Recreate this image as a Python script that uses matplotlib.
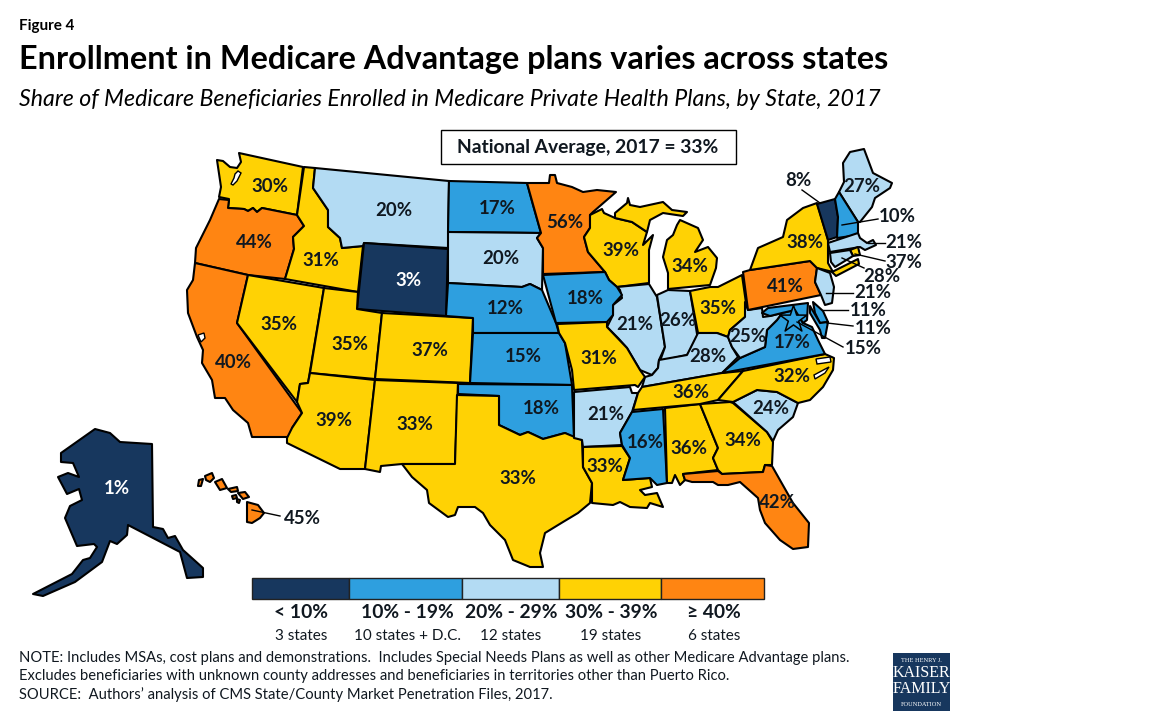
#!/usr/bin/env python3
"""
Medicare Advantage enrollment by state, 2017
"""

import numpy as np
import matplotlib.pyplot as plt
from matplotlib.patches import Polygon, Rectangle

plt.rcParams['font.family'] = ['Lato', 'DejaVu Sans']

states = ['WA', 'OR', 'CA', 'NV', 'ID', 'MT', 'WY', 'UT', 'CO', 'AZ', 'NM', 'ND', 'SD', 'NE', 'KS', 'OK', 'TX',
          'MN', 'IA', 'MO', 'AR', 'LA', 'WI', 'IL', 'IN', 'MI', 'OH', 'KY', 'TN', 'MS', 'AL', 'GA', 'FL', 'SC',
          'NC', 'VA', 'WV', 'PA', 'NY', 'VT', 'ME', 'NH', 'MA', 'RI', 'CT', 'NJ', 'DE', 'MD', 'DC', 'HI', 'AK']
shares = [30, 44, 40, 35, 31, 20, 3, 35, 37, 39, 33, 17, 20, 12, 15, 18, 33,
          56, 18, 31, 21, 33, 39, 21, 26, 34, 35, 28, 36, 16, 36, 34, 42, 24,
          32, 17, 25, 41, 38, 8, 27, 10, 21, 37, 28, 21, 11, 11, 15, 45, 1]

bin_edges = [10, 20, 30, 40]
bin_colors = ['#17375E', '#2E9FDF', '#B3DBF3', '#FFD204', '#FF8512']
bin_labels = ['< 10%', '10% - 19%', '20% - 29%', '30% - 39%', '≥ 40%']
bin_counts = ['3 states', '10 states + D.C.', '12 states', '19 states', '6 states']

# outlines, in picture coordinates
outlines = {
    'WA': [[(239, 153), (303, 167), (297, 215), (262, 208), (257, 212), (253, 208), (248, 211), (244, 209), (228, 208),
            (229, 199), (219, 197), (221, 187), (217, 160), (223, 161), (230, 167), (237, 168), (241, 162)]],
    'OR': [[(219, 199), (229, 200), (228, 208), (244, 209), (248, 211), (253, 208), (257, 212), (262, 208), (297, 215),
            (304, 226), (293, 237), (294, 249), (285, 279), (248, 275), (195, 263), (196, 248), (210, 220)]],
    'CA': [[(195, 263), (248, 275), (237, 323), (302, 413), (292, 428), (292, 437), (252, 437), (248, 423), (233, 410),
            (225, 398), (215, 398), (212, 380), (202, 363), (203, 350), (197, 337), (188, 313), (187, 290), (193, 280)]],
    'NV': [[(248, 275), (324, 288), (308, 383), (300, 384), (297, 402), (237, 323)]],
    'ID': [[(304, 167), (315, 168), (313, 188), (328, 210), (328, 227), (340, 238), (342, 248), (363, 246), (358, 292),
            (285, 279), (294, 249), (293, 237), (304, 226), (297, 215)]],
    'MT': [[(315, 168), (449, 181), (448, 248), (364, 243), (363, 246), (342, 248), (340, 238), (328, 227), (328, 210),
            (313, 188)]],
    'WY': [[(364, 243), (448, 249), (446, 316), (357, 309)]],
    'UT': [[(324, 288), (358, 292), (357, 309), (382, 313), (375, 379), (310, 373)]],
    'CO': [[(382, 313), (473, 318), (470, 383), (375, 379)]],
    'AZ': [[(310, 373), (375, 380), (365, 469), (340, 469), (287, 443), (287, 438), (292, 428), (302, 413), (297, 402),
            (300, 384), (308, 383)]],
    'NM': [[(375, 380), (458, 383), (455, 464), (402, 464), (381, 466), (380, 472), (365, 469)]],
    'ND': [[(449, 181), (527, 183), (533, 205), (541, 233), (448, 232)]],
    'SD': [[(448, 232), (541, 233), (537, 238), (543, 248), (542, 290), (530, 284), (522, 287), (448, 283)]],
    'NE': [[(448, 283), (522, 287), (530, 284), (542, 290), (556, 323), (559, 333), (473, 333), (473, 318), (446, 316)]],
    'KS': [[(473, 333), (559, 333), (565, 343), (572, 385), (470, 383)]],
    'OK': [[(458, 384), (572, 385), (574, 438), (565, 433), (543, 439), (528, 432), (520, 435), (499, 425), (499, 396),
            (458, 394)]],
    'TX': [[(457, 395), (499, 396), (499, 425), (520, 435), (528, 432), (543, 439), (565, 433), (582, 440), (583, 467),
            (592, 483), (590, 503), (578, 513), (563, 522), (545, 533), (540, 553), (543, 567), (530, 567), (513, 560),
            (505, 540), (490, 525), (483, 513), (475, 507), (458, 507), (455, 515), (448, 517), (429, 503), (427, 490),
            (412, 477), (402, 464), (455, 464)]],
    'MN': [[(527, 183), (549, 183), (550, 175), (555, 175), (557, 183), (572, 187), (583, 192), (597, 190), (616, 192),
            (593, 212), (590, 215), (590, 228), (584, 237), (588, 252), (605, 272), (543, 274), (543, 248), (537, 238),
            (541, 233)]],
    'WI': [[(590, 215), (602, 209), (604, 213), (615, 218), (632, 222), (647, 232), (643, 245), (653, 235), (649, 250),
            (649, 283), (617, 287), (609, 280), (605, 272), (588, 252), (584, 237), (590, 228)]],
    'MI': [[(615, 213), (627, 203), (628, 198), (630, 205), (640, 207), (663, 202), (672, 210), (687, 212), (683, 216),
            (663, 213), (650, 220), (647, 232), (632, 222), (615, 218)],
           [(680, 220), (698, 228), (703, 240), (695, 252), (708, 247), (717, 258), (716, 268), (710, 285), (668, 289),
            (668, 273), (663, 257), (667, 240), (673, 235), (677, 225)]],
    'IL': [[(617, 287), (649, 284), (657, 297), (665, 347), (659, 360), (658, 368), (652, 375), (640, 370), (627, 348),
            (618, 338), (607, 327), (613, 315), (613, 305), (622, 298), (620, 290)]],
    'IN': [[(657, 295), (668, 290), (690, 291), (698, 340), (687, 355), (660, 361), (665, 347)]],
    'OH': [[(690, 291), (710, 287), (718, 287), (742, 275), (746, 303), (745, 317), (730, 330), (728, 337), (717, 333),
            (698, 333)]],
    'KY': [[(698, 333), (717, 333), (728, 337), (732, 347), (738, 357), (722, 373), (642, 387), (645, 377), (652, 375),
            (658, 368), (659, 360), (687, 355)]],
    'IA': [[(543, 275), (605, 272), (609, 280), (617, 287), (622, 295), (613, 305), (613, 315), (607, 322), (556, 323)]],
    'MO': [[(557, 324), (607, 322), (607, 327), (627, 348), (640, 370), (645, 377), (638, 387), (635, 385), (574, 390),
            (572, 370), (565, 343), (559, 333)]],
    'AR': [[(574, 392), (630, 387), (632, 393), (638, 393), (632, 412), (620, 433), (622, 445), (583, 447), (582, 440),
            (574, 438)]],
    'LA': [[(583, 447), (622, 446), (630, 458), (623, 480), (650, 478), (652, 487), (640, 490), (645, 495), (657, 493),
            (663, 507), (650, 503), (647, 508), (630, 507), (620, 502), (613, 505), (592, 503), (592, 483), (583, 467)]],
    'MS': [[(632, 412), (663, 409), (667, 483), (657, 485), (650, 478), (623, 480), (630, 458), (622, 445), (620, 433)]],
    'AL': [[(665, 408), (700, 404), (718, 448), (713, 458), (718, 470), (683, 474), (685, 480), (680, 485), (675, 475),
            (672, 483), (667, 483)]],
    'GA': [[(700, 404), (730, 402), (733, 403), (767, 432), (773, 442), (772, 465), (765, 465), (763, 472), (722, 474),
            (718, 470), (713, 458), (718, 448)]],
    'FL': [[(683, 474), (718, 471), (722, 474), (763, 472), (765, 465), (772, 466), (793, 503), (809, 523), (808, 547),
            (793, 549), (780, 540), (765, 523), (760, 510), (758, 498), (740, 482), (728, 485), (718, 485), (713, 482),
            (692, 482), (685, 480)]],
    'SC': [[(733, 402), (757, 390), (777, 392), (798, 403), (793, 417), (778, 430), (773, 441), (767, 432)]],
    'TN': [[(642, 387), (722, 373), (743, 371), (718, 400), (700, 404), (633, 410), (638, 393)]],
    'NC': [[(743, 371), (825, 354), (834, 358), (833, 370), (823, 387), (810, 400), (798, 403), (777, 392), (757, 390),
            (733, 402), (718, 400)]],
    'VA': [[(722, 373), (740, 358), (765, 347), (767, 330), (777, 320), (782, 313), (795, 310), (803, 323), (812, 327),
            (818, 340), (825, 354)]],
    'WV': [[(745, 302), (748, 310), (762, 308), (763, 317), (770, 316), (782, 313), (777, 320), (767, 330), (765, 347),
            (740, 358), (732, 347), (728, 337), (730, 330), (745, 317)]],
    'PA': [[(743, 272), (750, 270), (810, 261), (817, 268), (815, 282), (821, 295), (748, 310)]],
    'NY': [[(750, 270), (758, 248), (783, 237), (787, 220), (803, 208), (817, 203), (828, 240), (828, 263), (833, 272),
            (817, 268), (810, 261)],
           [(832, 272), (858, 259), (859, 264), (836, 276)]],
    'VT': [[(817, 204), (835, 199), (838, 217), (837, 237), (828, 240)]],
    'ME': [[(839, 192), (844, 182), (843, 163), (850, 152), (864, 149), (873, 173), (892, 183), (890, 188), (875, 198),
            (872, 207), (860, 222), (858, 222)]],
    'NH': [[(835, 199), (839, 192), (858, 222), (858, 235), (837, 238), (838, 217)]],
    'MA': [[(828, 243), (858, 233), (860, 238), (867, 243), (873, 240), (876, 245), (865, 250), (860, 247), (830, 252)]],
    'RI': [[(850, 250), (858, 247), (860, 255), (853, 256)]],
    'CT': [[(830, 253), (850, 250), (853, 256), (835, 267), (831, 262)]],
    'NJ': [[(817, 268), (830, 273), (834, 287), (832, 303), (825, 305), (821, 295), (815, 282)]],
    'DE': [[(813, 302), (823, 311), (828, 322), (820, 323), (815, 313)]],
    'MD': [[(762, 313), (768, 308), (808, 303), (807, 320), (803, 323), (795, 310), (782, 313), (770, 316)],
           [(810, 306), (820, 323), (828, 322), (825, 338), (822, 338), (820, 330), (810, 313)]],
    'HI': [[(247, 502), (258, 505), (264, 513), (260, 518), (252, 523), (247, 522), (247, 510)],
           [(238, 493), (245, 492), (249, 497), (243, 499)],
           [(228, 489), (237, 487), (238, 491), (231, 492)],
           [(215, 482), (222, 479), (227, 488), (220, 490)],
           [(205, 476), (212, 473), (214, 478), (210, 482), (206, 480)],
           [(199, 480), (203, 479), (201, 486), (198, 486)],
           [(232, 496), (236, 495), (237, 498), (233, 499)],
           [(237, 499), (240, 500), (239, 503), (237, 502)]],
    'AK': [[(95, 429), (110, 433), (120, 442), (152, 444), (153, 527), (163, 529), (168, 538), (175, 536), (183, 550),
            (203, 568), (203, 577), (187, 578), (180, 552), (128, 525), (127, 535), (117, 544), (110, 541), (102, 562),
            (75, 582), (43, 596), (33, 594), (72, 574), (83, 560), (90, 558), (97, 547), (94, 544), (77, 546), (65, 518),
            (70, 506), (82, 500), (79, 489), (67, 494), (58, 477), (68, 473), (79, 477), (73, 463), (61, 462), (61, 453)]],
}

# bays that cut into the outlines
water = [[(238, 171), (241, 173), (237, 181), (233, 185), (231, 184), (234, 178), (235, 174)],
         [(198, 335), (204, 333), (205, 338), (201, 342)],
         [(816, 359), (830, 357), (831, 362), (817, 364)],
         [(814, 375), (829, 367), (825, 373), (815, 379)]]

label_pos = {
    'WA': (270, 187), 'OR': (254, 242), 'CA': (233, 362), 'NV': (279, 324), 'ID': (321, 261), 'MT': (394, 210),
    'WY': (408, 280), 'UT': (350, 344), 'CO': (430, 351), 'AZ': (334, 420), 'NM': (415, 424), 'ND': (497, 209),
    'SD': (501, 258), 'NE': (505, 309), 'KS': (523, 357), 'OK': (541, 408), 'TX': (518, 479), 'MN': (565, 223),
    'IA': (585, 298), 'MO': (599, 359), 'AR': (606, 415), 'LA': (605, 466), 'WI': (621, 250), 'IL': (635, 325),
    'IN': (678, 321), 'MI': (690, 267), 'OH': (718, 309), 'KY': (708, 357), 'TN': (691, 392), 'MS': (645, 443),
    'AL': (689, 448), 'GA': (743, 441), 'FL': (777, 503), 'SC': (771, 409), 'NC': (792, 377), 'VA': (792, 343),
    'WV': (748, 336), 'PA': (785, 286), 'NY': (805, 243), 'VT': (798, 181), 'ME': (862, 186), 'NH': (897, 217),
    'MA': (904, 242), 'RI': (904, 263), 'CT': (882, 276), 'NJ': (873, 293), 'DE': (868, 311), 'MD': (873, 328),
    'DC': (863, 348), 'HI': (302, 519), 'AK': (117, 489),
}
white_labels = ['WY', 'AK']

leaders = [[(802, 190), (820, 203)], [(842, 225), (878, 219)], [(868, 243), (885, 243)], [(855, 254), (885, 261)],
           [(842, 258), (864, 268)], [(826, 293), (853, 293)], [(823, 310), (848, 310)], [(827, 323), (853, 326)],
           [(797, 322), (843, 347)], [(252, 510), (280, 516)]]

dc_pos = (793, 319)
legend_breaks = [252, 349, 462, 559, 661, 764]
legend_centers = [301, 407, 511, 611, 714]

note_lines = ['NOTE: Includes MSAs, cost plans and demonstrations.  Includes Special Needs Plans as well as other Medicare Advantage plans.',
              'Excludes beneficiaries with unknown county addresses and beneficiaries in territories other than Puerto Rico.',
              'SOURCE:  Authors’ analysis of CMS State/County Market Penetration Files, 2017.']

fig = plt.figure(figsize=(11.52, 7.2), dpi=100)
ax = fig.add_axes([0, 0, 1, 1])
ax.set_xlim(0, 1152)
ax.set_ylim(720, 0)
ax.axis('off')

ink = '#101820'
line_w = 1.5

colors = [bin_colors[i] for i in np.digitize(shares, bin_edges)]
color_by_state = dict(zip(states, colors))
share_by_state = dict(zip(states, shares))

for st, parts in outlines.items():
    for part in parts:
        ax.add_patch(Polygon(part, closed=True, facecolor=color_by_state[st], edgecolor='black',
                             linewidth=line_w, joinstyle='round', zorder=2))
for part in water:
    ax.add_patch(Polygon(part, closed=True, facecolor='white', edgecolor='black', linewidth=1.0, zorder=3))

ax.scatter([dc_pos[0]], [dc_pos[1]], marker='*', s=420, facecolor=color_by_state['DC'], edgecolor='black',
           linewidth=1.1, zorder=4)

for seg in leaders:
    xs, ys = zip(*seg)
    ax.plot(xs, ys, color='black', linewidth=1.0, zorder=5)

for st, (x, y) in label_pos.items():
    txt_color = 'white' if st in white_labels else ink
    ax.text(x, y, f'{share_by_state[st]}%', ha='center', va='center', fontsize=13.4, fontweight='bold',
            color=txt_color, zorder=6)

# titles
ax.text(19, 26, 'Figure 4', fontsize=11, fontweight='bold', color='black', va='center')
ax.text(19, 59, 'Enrollment in Medicare Advantage plans varies across states', fontsize=23.3, fontweight='bold',
        color='black', va='center')
ax.text(19, 99, 'Share of Medicare Beneficiaries Enrolled in Medicare Private Health Plans, by State, 2017',
        fontsize=16.7, style='italic', color='black', va='center')

ax.add_patch(Rectangle((441, 130), 295, 34, facecolor='white', edgecolor='black', linewidth=1.0, zorder=6))
ax.text(588, 147, 'National Average, 2017 = 33%', ha='center', va='center', fontsize=13.9, fontweight='bold',
        color=ink, zorder=7)

# legend
for i, c in enumerate(bin_colors):
    ax.add_patch(Rectangle((legend_breaks[i], 578), legend_breaks[i + 1] - legend_breaks[i], 21,
                           facecolor=c, edgecolor='#222222', linewidth=1.0))
    ax.text(legend_centers[i], 613, bin_labels[i], ha='center', va='center', fontsize=13.9, fontweight='bold', color=ink)
    ax.text(legend_centers[i], 636, bin_counts[i], ha='center', va='center', fontsize=11, color=ink)

for y, line in zip([658, 676, 695], note_lines):
    ax.text(19, y, line, fontsize=10.65, color=ink, va='center')

# logo
ax.add_patch(Rectangle((893, 653), 57, 58, facecolor='#17375E', edgecolor='none'))
ax.text(921.5, 660, 'THE HENRY J.', ha='center', va='center', fontsize=4.6, color='white', family='Liberation Serif')
ax.text(921.5, 673, 'KAISER', ha='center', va='center', fontsize=11.5, color='white', family='Liberation Serif')
ax.text(921.5, 689, 'FAMILY', ha='center', va='center', fontsize=11.5, color='white', family='Liberation Serif')
ax.text(921.5, 704, 'FOUNDATION', ha='center', va='center', fontsize=4.6, color='white', family='Liberation Serif')

plt.savefig('out.png', dpi=100)
plt.close()
